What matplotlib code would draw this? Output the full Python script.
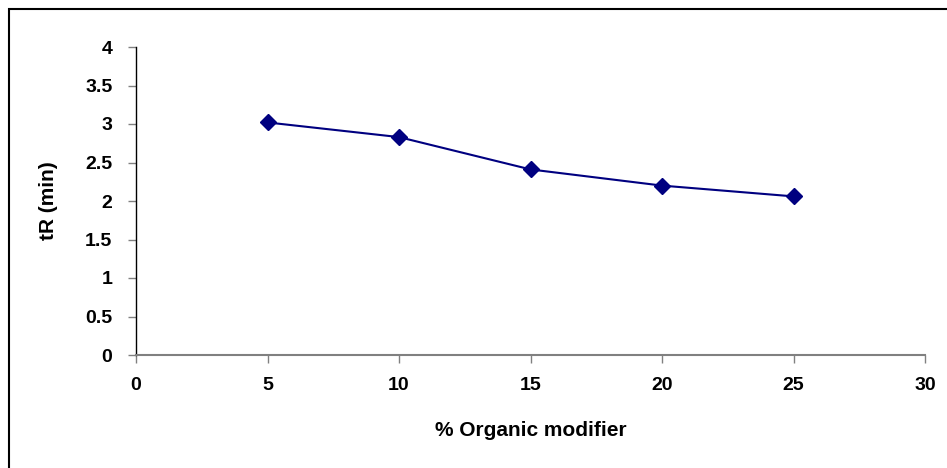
import matplotlib
matplotlib.use('Agg')
import matplotlib.pyplot as plt
from matplotlib.patches import Rectangle

# data
organic_pct = [5, 10, 15, 20, 25]
retention_min = [3.02, 2.83, 2.41, 2.20, 2.06]
x_ticks = [0, 5, 10, 15, 20, 25, 30]
y_ticks = [0, 0.5, 1, 1.5, 2, 2.5, 3, 3.5, 4]
y_tick_labels = ["0", "0.5", "1", "1.5", "2", "2.5", "3", "3.5", "4"]

plt.rcParams['font.family'] = ['Liberation Sans', 'DejaVu Sans']

fig = plt.figure(figsize=(9.47, 4.68), dpi=100)
ax = fig.add_axes([136 / 947, 1 - 355 / 468, (925 - 136) / 947, (355 - 47) / 468])

ax.plot(organic_pct, retention_min, color="#000080", linewidth=1.5,
        marker="D", markersize=8, markerfacecolor="#000080",
        markeredgecolor="#000080", clip_on=False)

ax.set_xlim(0, 30)
ax.set_ylim(0, 4)
ax.set_xticks(x_ticks)
ax.set_xticklabels([str(t) for t in x_ticks], fontweight="bold", fontsize=14)
ax.set_yticks(y_ticks)
ax.set_yticklabels(y_tick_labels, fontweight="bold", fontsize=14)

for side in ("top", "right"):
    ax.spines[side].set_visible(False)
ax.spines["left"].set_color("black")
ax.spines["left"].set_linewidth(1.0)
ax.spines["bottom"].set_color("#808080")
ax.spines["bottom"].set_linewidth(1.5)
ax.tick_params(axis="both", direction="out", length=6, width=1, color="#808080")
ax.tick_params(axis="x", pad=10)
ax.tick_params(axis="y", pad=11)

ax.set_xlabel("% Organic modifier", fontweight="bold", fontsize=15, va="center")
ax.xaxis.set_label_coords(0.5, (355 - 430) / 308)
ax.set_ylabel("tR (min)", fontweight="bold", fontsize=15, va="center")
ax.yaxis.set_label_coords((49 - 136) / 789, 0.5)

# outer chart border, clipped on the right and bottom edges like the source
fig.patches.append(Rectangle((9 / 947, -0.1), 1.0, 1 - 9 / 468 + 0.1,
                             transform=fig.transFigure, fill=False,
                             edgecolor="black", linewidth=1.5))

fig.savefig("out.png", dpi=100)
